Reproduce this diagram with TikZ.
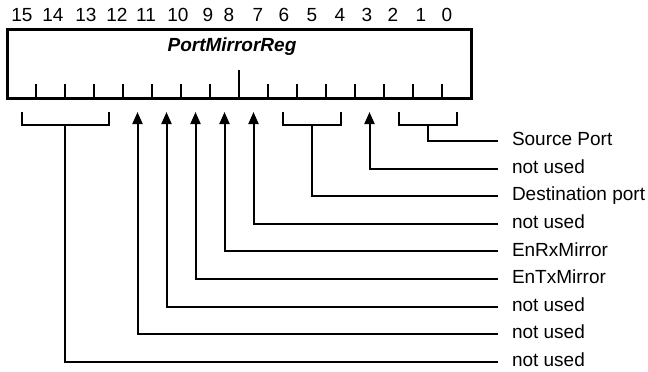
\documentclass[tikz,border=0pt]{standalone}
\usepackage{fontspec}
\setmainfont{Liberation Sans}
\usetikzlibrary{arrows.meta}
\begin{document}
\begin{tikzpicture}[x=1pt,y=-1pt,
  txt/.style={font=\fontsize{19}{21}\selectfont, inner sep=0pt},
  lab/.style={txt, anchor=west, outer xsep=14pt, outer ysep=0pt, text height=13.5pt, text depth=4pt},
  conn/.style={line width=2pt},
  arr/.style={conn, -{Triangle[width=10pt,length=12pt]}},
  regbox/.style={draw, line width=3pt, inner sep=0pt, outer sep=0pt},
  tickmark/.style={line width=2pt}]
\useasboundingbox (0,0) rectangle (648,372);
% register box
\node[regbox, minimum width=464pt, minimum height=69pt, anchor=north west] (reg) at (7,29) {};
\node[txt, font=\fontsize{19}{21}\selectfont\bfseries\itshape] (title) at (232,47) {PortMirrorReg};
% ticks
\foreach \k in {1,...,15}{
  \ifnum\k=8
    \draw[tickmark] (7+29*\k,98) -- (7+29*\k,70);
  \else
    \draw[tickmark] (7+29*\k,98) -- (7+29*\k,84);
  \fi
}
% bit numbers
\foreach \n/\x in {15/22,14/53,13/86,12/117,11/146,10/178,9/208,8/229,7/258,6/284,5/312,4/340,3/367,2/393,1/421,0/447}{
  \node[txt] (n\n) at (\x,15) {\n};
}
% bit coordinates
\foreach \b in {0,...,15}{
  \coordinate (b\b) at ({7+(15-\b)*29+14.5},112);
}
% labels
\node[lab] (L0) at (498,141) {Source Port};
\node[lab] (L1) at (498,168.6) {not used};
\node[lab] (L2) at (498,196.2) {Destination port};
\node[lab] (L3) at (498,223.8) {not used};
\node[lab] (L4) at (498,251.4) {EnRxMirror};
\node[lab] (L5) at (498,279) {EnTxMirror};
\node[lab] (L6) at (498,306.6) {not used};
\node[lab] (L7) at (498,334.2) {not used};
\node[lab] (L8) at (498,361.8) {not used};
% brackets
\coordinate (m0) at (427.5,125);
\coordinate (m4) at (311.5,125);
\coordinate (m12) at (65,125);
\draw[conn] (b2) -- (b2 |- m0) -- (b0 |- m0) -- (b0);
\draw[conn] (b6) -- (b6 |- m4) -- (b4 |- m4) -- (b4);
\draw[conn] (b15) -- (b15 |- m12) -- (b12 |- m12) -- (b12);
\draw[conn] (m0) |- (L0.west);
\draw[conn] (m4) |- (L2.west);
\draw[conn] (m12) |- (L8.west);
% arrows
\draw[arr] (L1.west) -| (b3);
\draw[arr] (L3.west) -| (b7);
\draw[arr] (L4.west) -| (b8);
\draw[arr] (L5.west) -| (b9);
\draw[arr] (L6.west) -| (b10);
\draw[arr] (L7.west) -| (b11);
\end{tikzpicture}
\end{document}
